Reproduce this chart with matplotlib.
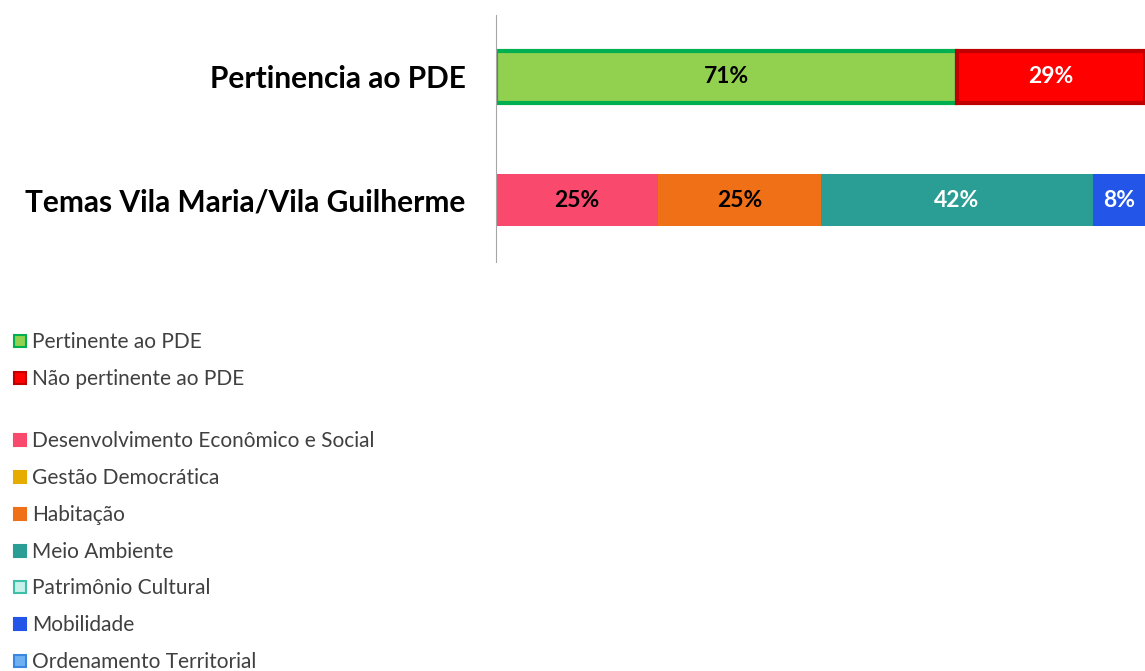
import matplotlib.pyplot as plt
from matplotlib.patches import Rectangle

plt.rcParams['font.family'] = ['Lato', 'DejaVu Sans']

# dados
linhas = ["Pertinencia ao PDE", "Temas Vila Maria/Vila Guilherme"]

pde_nomes = ["Pertinente ao PDE", "Não pertinente ao PDE"]
pde_valores = [71, 29]
pde_cores = ["#92D050", "#FF0000"]
pde_bordas = ["#00B050", "#C00000"]
pde_txt = ["black", "white"]

temas_nomes = ["Desenvolvimento Econômico e Social", "Gestão Democrática", "Habitação",
               "Meio Ambiente", "Patrimônio Cultural", "Mobilidade", "Ordenamento Territorial"]
temas_valores = [25, 0, 25, 42, 0, 8, 0]
temas_cores = ["#F94A6E", "#E6AC00", "#F07018", "#2A9D94", "#C6F0EA", "#2255E8", "#6EB0F0"]
temas_bordas = ["#F94A6E", "#E6AC00", "#F07018", "#2A9D94", "#3DBFA8", "#2255E8", "#3A86E0"]
temas_txt = ["black", "black", "black", "white", "black", "white", "black"]

fig = plt.figure(figsize=(11.45, 6.71), dpi=100)
ax = fig.add_axes([496 / 1145, 1 - 262 / 671, 1 - 496 / 1145, 247 / 671])

h = 0.42
esq = 0
for v, c, b, t in zip(pde_valores, pde_cores, pde_bordas, pde_txt):
    ax.barh(0, v, left=esq, height=h, color=c, edgecolor=b, linewidth=3)
    ax.text(esq + v / 2, 0, f"{v}%", ha="center", va="center", color=t,
            fontsize=16.5, fontweight="bold")
    esq += v

esq = 0
for v, c, t in zip(temas_valores, temas_cores, temas_txt):
    if v == 0:
        continue
    ax.barh(1, v, left=esq, height=h, color=c, linewidth=0)
    ax.text(esq + v / 2, 1, f"{v}%", ha="center", va="center", color=t,
            fontsize=16.5, fontweight="bold")
    esq += v

ax.set_xlim(0, 100)
ax.set_ylim(1.5, -0.5)
ax.set_yticks([0, 1])
ax.set_yticklabels(linhas, fontsize=21.5, fontweight="bold")
ax.tick_params(axis="y", length=0, pad=22)
ax.set_xticks([])
for s in ["top", "right", "bottom"]:
    ax.spines[s].set_visible(False)
ax.spines["left"].set_color("#A6A6A6")

# legenda
itens = list(zip(pde_nomes, pde_cores, pde_bordas)) + [None] + \
    list(zip(temas_nomes, temas_cores, temas_bordas))
y = 341
for it in itens:
    if it is None:
        y += 26
        continue
    nome, c, b = it
    fig.patches.append(Rectangle((14 / 1145, 1 - (y + 6) / 671), 12 / 1145, 12 / 671,
                                 transform=fig.transFigure, facecolor=c, edgecolor=b,
                                 linewidth=1.5))
    fig.text(32 / 1145, 1 - (y + 1) / 671, nome, ha="left", va="center", fontsize=15,
             color="#404040")
    y += 36.7

fig.savefig("out.png", dpi=100)
